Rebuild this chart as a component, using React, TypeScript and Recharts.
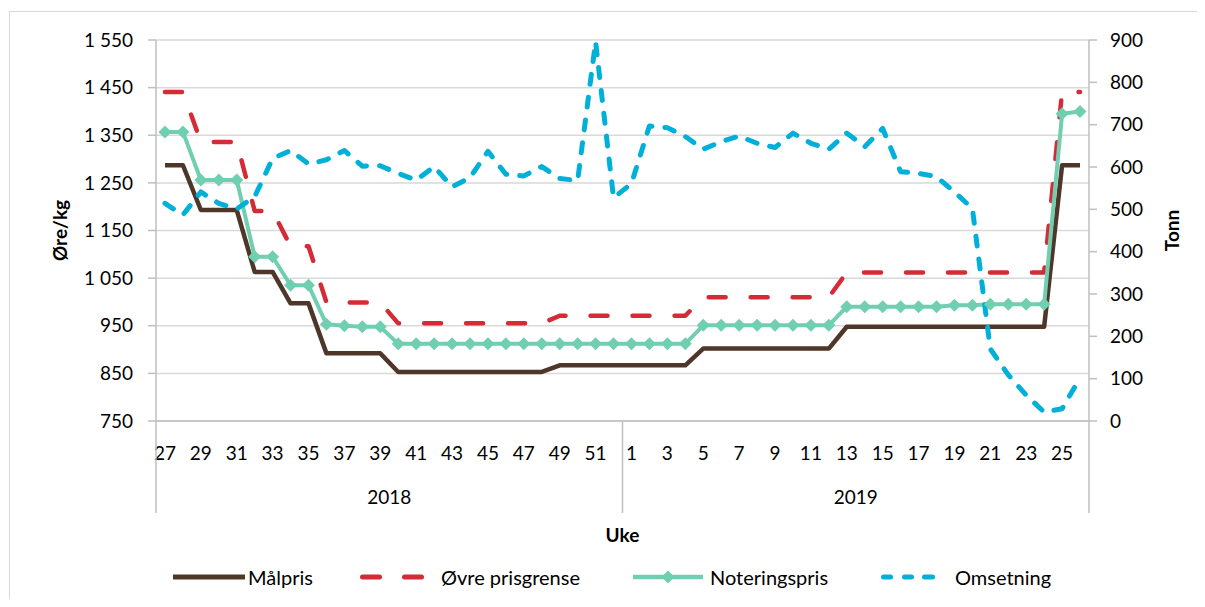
import React from 'react';
import { LineChart, Line, XAxis, YAxis, CartesianGrid, Legend } from 'recharts';

// ---------- data ----------
const weeks2018 = [27, 28, 29, 30, 31, 32, 33, 34, 35, 36, 37, 38, 39, 40, 41, 42, 43, 44, 45, 46, 47, 48, 49, 50, 51, 52];
const weeks2019 = [1, 2, 3, 4, 5, 6, 7, 8, 9, 10, 11, 12, 13, 14, 15, 16, 17, 18, 19, 20, 21, 22, 23, 24, 25, 26];

const malpris2018 = [1287, 1287, 1193, 1193, 1193, 1063, 1063, 997, 997, 892, 892, 892, 892, 853, 853, 853, 853, 853, 853, 853, 853, 853, 867, 867, 867, 867];
const malpris2019 = [867, 867, 867, 867, 902, 902, 902, 902, 902, 902, 902, 902, 948, 948, 948, 948, 948, 948, 948, 948, 948, 948, 948, 948, 1287, 1287];

const ovre2018 = [1441, 1441, 1336, 1336, 1336, 1191, 1191, 1117, 1117, 999, 999, 999, 999, 955, 955, 955, 955, 955, 955, 955, 955, 955, 971, 971, 971, 971];
const ovre2019 = [971, 971, 971, 971, 1010, 1010, 1010, 1010, 1010, 1010, 1010, 1010, 1062, 1062, 1062, 1062, 1062, 1062, 1062, 1062, 1062, 1062, 1062, 1062, 1441, 1441];

const notering2018 = [1357, 1357, 1256, 1256, 1256, 1095, 1095, 1035, 1035, 953, 950, 948, 948, 912, 912, 912, 912, 912, 912, 912, 912, 912, 912, 912, 912, 912];
const notering2019 = [912, 912, 912, 912, 951, 951, 951, 951, 951, 951, 951, 951, 990, 990, 990, 990, 990, 990, 993, 993, 995, 995, 995, 995, 1395, 1400];

const omsetning2018 = [514, 487, 541, 514, 501, 530, 620, 639, 607, 617, 639, 602, 603, 585, 569, 601, 553, 575, 637, 583, 579, 601, 573, 568, 896, 527];
const omsetning2019 = [561, 697, 693, 672, 642, 660, 673, 656, 646, 680, 656, 642, 680, 648, 691, 589, 585, 577, 541, 502, 170, 109, 61, 21, 29, 102];

const years = ['2018', '2019'];
const leftTicks = [750, 850, 950, 1050, 1150, 1250, 1350, 1450, 1550];
const rightTicks = [0, 100, 200, 300, 400, 500, 600, 700, 800, 900];

// ---------- build table ----------
const rows = [
  ...weeks2018.map((w, i) => ({
    key: `${years[0]}-${w}`, week: String(w), year: years[0],
    malpris: malpris2018[i], ovre: ovre2018[i], notering: notering2018[i], omsetning: omsetning2018[i],
  })),
  ...weeks2019.map((w, i) => ({
    key: `${years[1]}-${w}`, week: String(w), year: years[1],
    malpris: malpris2019[i], ovre: ovre2019[i], notering: notering2019[i], omsetning: omsetning2019[i],
  })),
];

// ---------- styles ----------
const BROWN = '#4E3629';
const RED = '#D52B36';
const GREEN = '#6FCFB0';
const BLUE = '#00B0D9';
const GRID = '#D9D9D9';
const AXIS = '#BFBFBF';
const FONT = 'Lato, "Open Sans", sans-serif';
const FS = 19;

const W = 1189;
const H = 591;

const fmtThousands = (v: number) => {
  if (v >= 1000) {
    const th = Math.floor(v / 1000);
    const rest = String(v % 1000).padStart(3, '0');
    return `${th} ${rest}`;
  }
  return String(v);
};

const WeekTick = (props: any) => {
  const { x, y, payload } = props;
  const index: number = props.index ?? payload.index;
  const row = rows[index];
  const off = payload.offset ?? props.width / rows.length / 2;
  const els: React.ReactNode[] = [];
  if (index % 2 === 0) {
    els.push(
      <text key="t" x={x} y={y + 32} dy="0.35em" textAnchor="middle" fontSize={FS} fill="#000">
        {row.week}
      </text>
    );
  }
  if (index === 0 || rows[index - 1].year !== row.year) {
    els.push(<line key="l" x1={x - off} x2={x - off} y1={y} y2={y + 92} stroke={AXIS} strokeWidth={1.5} />);
  }
  if (index === rows.length - 1) {
    els.push(<line key="r" x1={x + off} x2={x + off} y1={y} y2={y + 92} stroke={AXIS} strokeWidth={1.5} />);
  }
  return <g>{els}</g>;
};

const YearTick = (props: any) => {
  const { x, y, payload } = props;
  return (
    <text x={x} y={y + 21} dy="0.35em" textAnchor="middle" fontSize={FS} fill="#000">
      {payload.value}
    </text>
  );
};

const Diamond = (props: any) => {
  const { cx, cy, index } = props;
  if (cx == null || cy == null) return <g key={`d${index}`} />;
  const s = 6.5;
  return (
    <path
      key={`d${index}`}
      d={`M${cx},${cy - s}L${cx + s},${cy}L${cx},${cy + s}L${cx - s},${cy}Z`}
      fill={GREEN}
      stroke="none"
    />
  );
};

const legendItems = [
  { name: 'Målpris', kind: 'solid', color: BROWN, left: 165, iconW: 72, gap: 3 },
  { name: 'Øvre prisgrense', kind: 'dash', color: RED, left: 348, iconW: 72, gap: 13 },
  { name: 'Noteringspris', kind: 'marker', color: GREEN, left: 625, iconW: 70, gap: 7 },
  { name: 'Omsetning', kind: 'dot', color: BLUE, left: 866, iconW: 68, gap: 13 },
];

const LegendIcon = ({ kind, color, w }: { kind: string; color: string; w: number }) => {
  const m = 12;
  let body: React.ReactNode = null;
  if (kind === 'solid') {
    body = <line x1={0} x2={w} y1={m} y2={m} stroke={color} strokeWidth={5} />;
  } else if (kind === 'dash') {
    body = (
      <g stroke={color} strokeWidth={5} strokeLinecap="round">
        <line x1={6.5} x2={23.5} y1={m} y2={m} />
        <line x1={48.5} x2={65.5} y1={m} y2={m} />
      </g>
    );
  } else if (kind === 'marker') {
    const c = w / 2;
    body = (
      <g>
        <line x1={0} x2={w} y1={m} y2={m} stroke={color} strokeWidth={4.5} />
        <path d={`M${c},${m - 6.5}L${c + 6.5},${m}L${c},${m + 6.5}L${c - 6.5},${m}Z`} fill={color} />
      </g>
    );
  } else {
    body = (
      <g stroke={color} strokeWidth={5} strokeLinecap="round">
        <line x1={9.5} x2={16.5} y1={m} y2={m} />
        <line x1={30.5} x2={37.5} y1={m} y2={m} />
        <line x1={50.5} x2={58.5} y1={m} y2={m} />
      </g>
    );
  }
  return (
    <svg width={w} height={24} style={{ display: 'block' }}>
      {body}
    </svg>
  );
};

const LegendContent = () => (
  <div style={{ position: 'relative', width: W, height: 24, fontFamily: FONT }}>
    {legendItems.map((it) => (
      <div
        key={it.name}
        style={{ position: 'absolute', left: it.left, top: 0, display: 'flex', alignItems: 'center', height: 24 }}
      >
        <LegendIcon kind={it.kind} color={it.color} w={it.iconW} />
        <span style={{ marginLeft: it.gap, fontSize: 20, lineHeight: '24px', color: '#000', whiteSpace: 'nowrap' }}>
          {it.name}
        </span>
      </div>
    ))}
  </div>
);

export default function App() {
  return (
    <div style={{ position: 'relative', width: W, height: H, overflow: 'hidden', fontFamily: FONT, background: '#fff' }}>
      <div
        style={{
          position: 'absolute', left: 1, top: 3, width: W + 50, height: H + 50,
          border: `1.5px solid ${GRID}`, boxSizing: 'border-box', pointerEvents: 'none',
        }}
      />
      <LineChart width={W} height={H} data={rows} margin={{ top: 32, right: 8, left: 0, bottom: 43 }} style={{ fontFamily: FONT }}>
        <CartesianGrid xAxisId="w" yAxisId="l" vertical={false} stroke={GRID} strokeWidth={1.5} />
        <XAxis
          xAxisId="w"
          dataKey="key"
          scale="band"
          interval={0}
          height={55}
          tickLine={false}
          tickSize={0}
          tickMargin={0}
          axisLine={{ stroke: AXIS, strokeWidth: 1.5 }}
          tick={<WeekTick />}
        />
        <XAxis
          xAxisId="yr"
          dataKey="year"
          scale="band"
          allowDuplicatedCategory={false}
          ticks={years}
          interval={0}
          height={80}
          tickLine={false}
          tickSize={0}
          tickMargin={0}
          axisLine={false}
          tick={<YearTick />}
          label={{ value: 'Uke', position: 'insideBottom', offset: 14, style: { fontWeight: 700, fontSize: FS, fill: '#000' } }}
        />
        <YAxis
          yAxisId="l"
          orientation="left"
          width={148}
          domain={[750, 1550]}
          ticks={leftTicks}
          interval={0}
          tickFormatter={fmtThousands}
          tickSize={8}
          tickMargin={15}
          axisLine={{ stroke: AXIS, strokeWidth: 1.5 }}
          tickLine={{ stroke: AXIS, strokeWidth: 1.5 }}
          tick={{ fontSize: FS, fill: '#000' }}
          label={{
            value: 'Øre/kg', angle: -90, position: 'insideLeft', offset: 52,
            style: { textAnchor: 'middle', fontWeight: 700, fontSize: FS, fill: '#000' },
          }}
        />
        <YAxis
          yAxisId="r"
          orientation="right"
          width={100}
          domain={[0, 900]}
          ticks={rightTicks}
          interval={0}
          tickSize={8}
          tickMargin={13}
          axisLine={{ stroke: AXIS, strokeWidth: 1.5 }}
          tickLine={{ stroke: AXIS, strokeWidth: 1.5 }}
          tick={{ fontSize: FS, fill: '#000' }}
          label={{
            value: 'Tonn', angle: -90, position: 'insideRight', offset: 17,
            style: { textAnchor: 'middle', fontWeight: 700, fontSize: FS, fill: '#000' },
          }}
        />
        <Legend
          verticalAlign="middle"
          layout="horizontal"
          content={<LegendContent />}
          wrapperStyle={{ top: 557, left: 0, width: W, height: 24 }}
        />
        <Line
          xAxisId="w" yAxisId="l" dataKey="malpris" name="Målpris" type="linear"
          stroke={BROWN} strokeWidth={4.5} strokeLinejoin="round" dot={false} activeDot={false}
          isAnimationActive={false}
        />
        <Line
          xAxisId="w" yAxisId="l" dataKey="ovre" name="Øvre prisgrense" type="linear"
          stroke={RED} strokeWidth={4.5} strokeDasharray="17 25" strokeLinecap="round" strokeLinejoin="round"
          dot={false} activeDot={false} isAnimationActive={false}
        />
        <Line
          xAxisId="w" yAxisId="l" dataKey="notering" name="Noteringspris" type="linear"
          stroke={GREEN} strokeWidth={4} strokeLinejoin="round" dot={Diamond} activeDot={false}
          isAnimationActive={false}
        />
        <Line
          xAxisId="w" yAxisId="r" dataKey="omsetning" name="Omsetning" type="linear"
          stroke={BLUE} strokeWidth={5} strokeDasharray="10 13" strokeLinecap="round" strokeLinejoin="round"
          dot={false} activeDot={false} isAnimationActive={false}
        />
      </LineChart>
    </div>
  );
}
